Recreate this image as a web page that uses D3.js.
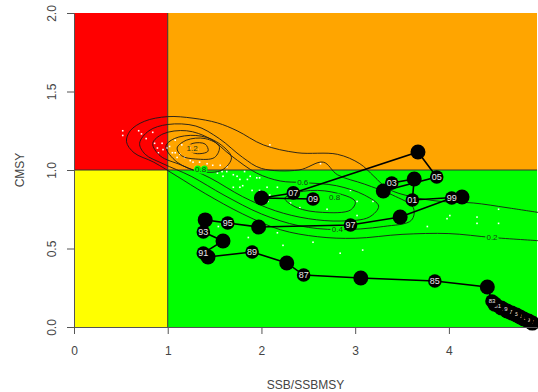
<!DOCTYPE html>
<html>
<head>
<meta charset="utf-8">
<script src="https://cdn.jsdelivr.net/npm/d3@7"></script>
<style>
  html, body { margin: 0; padding: 0; background: #ffffff; }
  svg { display: block; font-family: "Liberation Sans", Arial, sans-serif; }
</style>
</head>
<body>
<div id="chart"></div>
<script>
// ---- data ----
const years = [66, 67, 68, 69, 70, 71, 72, 73, 74, 75, 76, 77, 78, 79, 80, 81, 82, 83,
  84, 85, 86, 87, 88, 89, 90, 91, 92, 93, 94, 95, 96, 97, 98, 99, 0, 1, 2, 3, 4, 5, 6, 7, 8, 9];
const ssbRatio = [4.89, 4.87, 4.85, 4.83, 4.80, 4.78, 4.76, 4.74, 4.72, 4.70, 4.67, 4.64, 4.62, 4.59, 4.56, 4.52, 4.49, 4.46,
  4.41, 3.85, 3.06, 2.45, 2.27, 1.90, 1.43, 1.38, 1.59, 1.38, 1.40, 1.64, 1.97, 2.95, 3.48, 4.03, 4.14, 3.61, 3.63, 3.39, 3.30, 3.87, 3.67, 2.34, 2.00, 2.55];
const fRatio = [0.025, 0.032, 0.038, 0.045, 0.051, 0.057, 0.064, 0.070, 0.076, 0.083, 0.089, 0.096, 0.102, 0.115, 0.121, 0.134, 0.146, 0.166,
  0.255, 0.293, 0.312, 0.331, 0.408, 0.478, 0.446, 0.471, 0.548, 0.605, 0.682, 0.662, 0.637, 0.650, 0.701, 0.822, 0.828, 0.809, 0.943, 0.917, 0.866, 0.955, 1.115, 0.854, 0.822, 0.815];

// posterior sample (white dots)
const sampleX = [0.52, 0.52, 0.69, 0.72, 0.84, 0.77, 0.86, 0.89, 0.94, 0.95, 0.90, 0.99, 1.02, 1.05, 1.08, 1.10, 1.13, 1.18,
  1.24, 1.27, 1.34, 1.42, 1.48, 1.56, 1.63, 1.15, 1.24, 1.32, 1.08, 2.09, 2.63,
  1.53, 1.58, 1.63, 1.59, 1.70, 1.77, 1.80, 1.70, 1.88, 1.95, 1.82, 1.90, 2.06, 2.17, 2.09, 2.31, 2.41, 2.70, 2.73,
  3.02, 2.95, 3.19, 3.02, 3.77, 4.01, 3.98, 4.30, 4.30, 4.53, 4.53, 3.08, 1.86, 2.17, 2.23, 2.55, 2.84, 1.54, 2.07,
  1.74, 1.98, 1.77, 1.98, 1.85];
const sampleY = [1.25, 1.22, 1.25, 1.23, 1.24, 1.20, 1.17, 1.14, 1.17, 1.13, 1.11, 1.14, 1.15, 1.11, 1.11, 1.08, 1.10, 1.08,
  1.06, 1.05, 1.05, 1.04, 1.03, 1.03, 1.02, 1.16, 1.14, 1.13, 1.19, 1.16, 1.04,
  0.98, 0.99, 0.99, 0.96, 0.97, 0.94, 0.90, 0.89, 0.96, 0.95, 0.99, 0.87, 0.89, 0.89, 0.84, 0.79, 0.76, 0.75, 0.83,
  0.80, 0.87, 0.80, 0.71, 0.64, 0.71, 0.69, 0.70, 0.66, 0.75, 0.66, 0.49, 0.57, 0.60, 0.52, 0.54, 0.47, 0.64, 0.80,
  0.96, 0.95, 0.89, 0.87, 0.94];

// density contour lines
const contour02 = [[4.95, 0.73], [4.62, 0.76], [4.26, 0.79], [3.91, 0.80], [3.6, 0.83], [3.35, 0.88], [3.2, 0.96], [3.05, 1.04],
  [2.81, 1.10], [2.38, 1.11], [2.02, 1.16], [1.74, 1.25], [1.53, 1.30], [1.27, 1.33], [1.0, 1.34], [0.75, 1.31], [0.6, 1.25],
  [0.56, 1.18], [0.64, 1.11], [0.85, 1.05], [1.1, 0.96], [1.4, 0.85], [1.8, 0.72], [2.2, 0.62], [2.6, 0.575], [3.0, 0.565],
  [3.5, 0.59], [4.0, 0.595], [4.46, 0.57], [4.95, 0.55]];
const contour04 = [[0.70, 1.17], [0.8, 1.25], [1.0, 1.29], [1.3, 1.28], [1.55, 1.20], [1.8, 1.08], [2.0, 1.01], [2.4, 1.0],
  [2.66, 1.05], [2.81, 0.97], [3.1, 0.91], [3.4, 0.84], [3.62, 0.76], [3.6, 0.68], [3.3, 0.64], [2.81, 0.62], [2.4, 0.645],
  [2.0, 0.72], [1.6, 0.84], [1.25, 0.96], [0.95, 1.04], [0.76, 1.10]];
const contour06 = [[0.84, 1.17], [0.95, 1.23], [1.2, 1.25], [1.45, 1.20], [1.68, 1.09], [1.95, 0.98], [2.2, 0.93], [2.44, 0.92],
  [2.8, 0.90], [3.1, 0.84], [3.25, 0.77], [3.15, 0.70], [2.85, 0.675], [2.5, 0.69], [2.15, 0.74], [1.8, 0.83], [1.45, 0.95],
  [1.15, 1.03], [0.92, 1.09]];
const contour08a = [[0.98, 1.15], [1.07, 1.20], [1.3, 1.22], [1.52, 1.18], [1.68, 1.08], [1.58, 1.0], [1.35, 0.99], [1.1, 1.05]];
const contour08b = [[2.25, 0.82], [2.45, 0.865], [2.75, 0.86], [3.0, 0.80], [2.95, 0.745], [2.65, 0.73], [2.38, 0.76]];
const contour10 = [[1.1, 1.14], [1.2, 1.19], [1.4, 1.20], [1.55, 1.15], [1.5, 1.08], [1.3, 1.07], [1.15, 1.09]];
const contour12 = [[1.2, 1.14], [1.27, 1.17], [1.4, 1.165], [1.43, 1.12], [1.3, 1.105]];
const contourLabels = ["0.2", "0.4", "0.6", "0.8", "0.8", "1.2"];
const contourLabelX = [4.46, 2.81, 2.44, 2.78, 1.35, 1.26];
const contourLabelY = [0.57, 0.62, 0.92, 0.82, 1.0, 1.135];

const xTicks = [0, 1, 2, 3, 4];
const yTicks = [0, 0.5, 1, 1.5, 2];

// ---- layout ----
const width = 538, height = 392;
const margin = { top: 13, right: 1, bottom: 65, left: 74 };
const COLORS = {
  red: "#ff0000", orange: "#ffa500", yellow: "#ffff00", green: "#00ff00",
  axis: "#555555", text: "#444444", contour: "#1a1a1a",
};

const svg = d3.select("#chart").append("svg").attr("width", width).attr("height", height);

const x = d3.scaleLinear().domain([0, 4.94]).range([margin.left, width - margin.right]);
const y = d3.scaleLinear().domain([0, 2]).range([height - margin.bottom, margin.top]);

const quadrant = (vx, vy) => (vx < 1 ? (vy > 1 ? COLORS.red : COLORS.yellow) : (vy > 1 ? COLORS.orange : COLORS.green));

// background quadrants
const quads = [
  { x0: 0, x1: 1, y0: 1, y1: 2, c: COLORS.red },
  { x0: 1, x1: 4.94, y0: 1, y1: 2, c: COLORS.orange },
  { x0: 0, x1: 1, y0: 0, y1: 1, c: COLORS.yellow },
  { x0: 1, x1: 4.94, y0: 0, y1: 1, c: COLORS.green },
];
svg.append("g").selectAll("rect").data(quads).join("rect")
  .attr("x", (d) => x(d.x0)).attr("y", (d) => y(d.y1))
  .attr("width", (d) => x(d.x1) - x(d.x0)).attr("height", (d) => y(d.y0) - y(d.y1))
  .attr("fill", (d) => d.c);

// reference lines
svg.append("line").attr("x1", x(1)).attr("x2", x(1)).attr("y1", y(0)).attr("y2", y(2))
  .attr("stroke", "#333").attr("stroke-width", 1);
svg.append("line").attr("x1", x(0)).attr("x2", x(4.94)).attr("y1", y(1)).attr("y2", y(1))
  .attr("stroke", "#333").attr("stroke-width", 1);

// white sample dots
svg.append("g").selectAll("rect").data(d3.range(sampleX.length)).join("rect")
  .attr("x", (i) => x(sampleX[i]) - 0.8).attr("y", (i) => y(sampleY[i]) - 0.8)
  .attr("width", 1.6).attr("height", 1.6).attr("fill", "#ffffff");

// contours
const openLine = d3.line().x((d) => x(d[0])).y((d) => y(d[1])).curve(d3.curveCatmullRom);
const closedLine = d3.line().x((d) => x(d[0])).y((d) => y(d[1])).curve(d3.curveCatmullRomClosed);
const cg = svg.append("g").attr("fill", "none").attr("stroke", COLORS.contour).attr("stroke-width", 0.9);
cg.append("path").attr("d", openLine(contour02));
[contour04, contour06, contour08a, contour08b, contour10, contour12].forEach((c) => {
  cg.append("path").attr("d", closedLine(c));
});
svg.append("g").selectAll("text").data(contourLabels).join("text")
  .attr("x", (d, i) => x(contourLabelX[i])).attr("y", (d, i) => y(contourLabelY[i]))
  .attr("text-anchor", "middle").attr("dominant-baseline", "middle")
  .attr("font-size", 8).attr("fill", "#1a3a1a")
  .attr("stroke", (d, i) => quadrant(contourLabelX[i], contourLabelY[i])).attr("stroke-width", 3)
  .attr("paint-order", "stroke")
  .text((d) => d);

// trajectory
const idx = d3.range(years.length);
const trajLine = d3.line().x((i) => x(ssbRatio[i])).y((i) => y(fRatio[i]));
svg.append("path").attr("d", trajLine(idx)).attr("fill", "none")
  .attr("stroke", "#000").attr("stroke-width", 1.6);

const evenIdx = idx.filter((i) => years[i] % 2 === 0);
const oddIdx = idx.filter((i) => years[i] % 2 === 1);
svg.append("g").selectAll("circle").data(evenIdx).join("circle")
  .attr("cx", (i) => x(ssbRatio[i])).attr("cy", (i) => y(fRatio[i])).attr("r", 7.5).attr("fill", "#000");
const lab = svg.append("g").selectAll("g").data(oddIdx).join("g")
  .attr("transform", (i) => `translate(${x(ssbRatio[i])},${y(fRatio[i])})`);
lab.append("circle").attr("r", 6.8).attr("fill", "#000");
// the early years sit in a dense pile, so their labels are drawn smaller
lab.append("text").attr("text-anchor", "middle").attr("dominant-baseline", "central")
  .attr("font-size", (i) => (years[i] >= 66 && years[i] <= 83 ? 6 : 9)).attr("fill", "#e8e8e8")
  .text((i) => d3.format("02d")(years[i]));

// axes
const xAxis = d3.axisBottom(x).tickValues(xTicks).tickFormat(d3.format("d")).tickSize(7).tickPadding(12).tickSizeOuter(0);
const gx = svg.append("g").attr("transform", `translate(0,${y(0)})`).call(xAxis);
const yAxis = d3.axisLeft(y).tickValues(yTicks).tickFormat(d3.format(".1f")).tickSize(7).tickSizeOuter(0);
const gy = svg.append("g").attr("transform", `translate(${x(0)},0)`).call(yAxis);
[gx, gy].forEach((g) => {
  g.selectAll("path.domain").attr("stroke", COLORS.axis);
  g.selectAll(".tick line").attr("stroke", COLORS.axis);
  g.selectAll(".tick text").attr("fill", COLORS.text).attr("font-size", 12)
    .attr("font-family", "Liberation Sans, Arial, sans-serif");
});
// R-style vertical tick labels on the y axis
gy.selectAll(".tick text")
  .attr("x", 0).attr("y", 0).attr("dy", null)
  .attr("text-anchor", "middle")
  .attr("transform", "translate(-18,0) rotate(-90)");

svg.append("text").attr("x", (x(0) + x(4.94)) / 2).attr("y", 389).attr("text-anchor", "middle")
  .attr("font-size", 12).attr("fill", COLORS.text).text("SSB/SSBMSY");
svg.append("text").attr("transform", `translate(24,${y(1)}) rotate(-90)`).attr("text-anchor", "middle")
  .attr("font-size", 12).attr("fill", COLORS.text).text("CMSY");
</script>
</body>
</html>
